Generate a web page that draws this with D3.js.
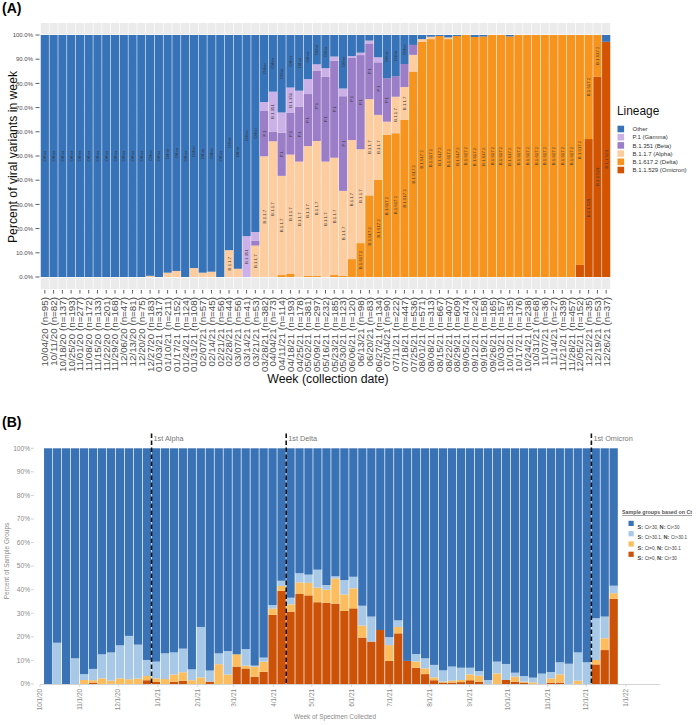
<!DOCTYPE html>
<html><head><meta charset="utf-8">
<script src="https://cdn.jsdelivr.net/npm/d3@7"></script>
<style>body{margin:0;background:#fff}svg{display:block}text{font-family:"Liberation Sans",Arial,sans-serif}</style>
</head><body><svg id="c" width="696" height="725"></svg>
<script>
// ---------- Panel A data ----------
const weeks = ["10/04/20","10/11/20","10/18/20","10/25/20","11/01/20","11/08/20","11/15/20","11/22/20","11/29/20","12/06/20",
"12/13/20","12/20/20","12/27/20","01/03/21","01/10/21","01/17/21","01/24/21","01/31/21","02/07/21","02/14/21",
"02/21/21","02/28/21","03/07/21","03/14/21","03/21/21","03/28/21","04/04/21","04/11/21","04/18/21","04/25/21",
"05/02/21","05/09/21","05/16/21","05/23/21","05/30/21","06/06/21","06/13/21","06/20/21","06/27/21","07/04/21",
"07/11/21","07/18/21","07/25/21","08/01/21","08/08/21","08/15/21","08/22/21","08/29/21","09/05/21","09/12/21",
"09/19/21","09/26/21","10/03/21","10/10/21","10/17/21","10/24/21","10/31/21","11/07/21","11/14/21","11/21/21",
"11/28/21","12/05/21","12/12/21","12/19/21","12/26/21"];
const nCounts = [95,82,137,193,277,172,133,201,168,47,81,75,183,317,211,152,124,108,57,45,
56,44,56,41,53,382,73,114,193,178,381,297,232,185,123,120,98,83,134,90,
222,447,536,571,313,667,407,609,474,224,158,165,157,135,176,238,68,36,27,339,
457,152,35,53,37];
const omicronA = [0,0,0,0,0,0,0,0,0,0, 0,0,0,0,0,0,0,0,0,0, 0,0,0,0,0,0,0,0,0,0, 0,0,0,0,0,0,0,0,0,0,
0,0,0,0,0,0,0,0,0,0, 0,0,0,0,0,0,0,0,0,0, 0,5.0,57.0,82.8,97.2];
const deltaA = [0,0,0,0,0,0,0,0,0,0, 0,0,0,0,0,0,0,0,0,0, 0,0,0,0,0,0,0,0.8,1.4,0,
0.5,0.5,0,0.8,0.5,7.4,14.0,33.7,40.2,58.7, 59.4,65.0,84.9,97.2,98.3,99.6,98.3,99.6,100,99.2,
99.4,100,100,99.4,100,100,100,100,100,100, 100,95.0,43.0,17.2,0];
const alphaA = [0,0,0,0,0,0,0,0,0,0, 0,0,0.5,0,1.8,2.5,0,3.7,1.8,2.2, 0,11.1,3.4,0,13.0,49.9,56.1,41.0,49.2,47.7,
53.6,55.7,47.7,48.5,35.1,49.2,38.8,39.8,26.8,5.5, 15.1,13.5,6.9,1.1,1.0,0,0.7,0,0,0,
0,0,0,0,0,0,0,0,0,0, 0,0,0,0,0];
const betaA = [0,0,0,0,0,0,0,0,0,0, 0,0,0,0,0,0,0,0,0,0, 0,0,0,0,2.0,18.7,4.0,17.8,17.2,22.6,
21.5,29.1,35.0,40.0,39.1,34.1,38.9,23.0,21.7,17.9, 8.5,9.5,4.1,0,0,0,0,0,0,0,
0,0,0,0,0,0,0,0,0,0, 0,0,0,0,0];
const gammaA = [0,0,0,0,0,0,0,0,0,0, 0,0,0,0,0,0,0,0,0,0, 0,0,0,16.9,3.6,3.7,16.5,8.4,10.5,6.7,
6.2,2.6,3.6,1.8,3.2,0.6,1.0,1.2,2.1,0, 0,0,0,0,0,0,0,0,0,0,
0,0,0,0,0,0,0,0,0,0, 0,0,0,0,0];
const otherA = [100,100,100,100,100,100,100,100,100,100, 100,100,99.5,100,98.2,97.5,100,96.3,98.2,97.8,
100,88.9,96.6,83.1,81.4,27.7,23.4,32.0,21.7,23.0, 18.2,12.1,13.7,8.9,22.1,8.7,7.3,2.3,9.2,17.9,
17.0,12.0,4.1,1.7,0.7,0.4,1.0,0.4,0,0.8, 0.6,0,0,0.6,0,0,0,0,0,0, 0,0,0,0,2.8];
const lineageKeys = ["omicron","delta","alpha","beta","gamma","other"];
const lineageNames = {other:"Other",gamma:"P.1 (Gamma)",beta:"B.1.351 (Beta)",alpha:"B.1.1.7 (Alpha)",delta:"B.1.617.2 (Delta)",omicron:"B.1.1.529 (Omicron)"};
const barLabels = {other:"Other",gamma:"B.1.351",beta:"P.1",alpha:"B.1.1.7",delta:"B.1.617.2",omicron:"B.1.1.529"};
const colorsA = {other:"#3773b9",gamma:"#cbb1e8",beta:"#9b7dc8",alpha:"#fdcda0",delta:"#f7941d",omicron:"#d35400"};
const legendOrderA = ["other","gamma","beta","alpha","delta","omicron"];
const yTicksA = [0,10,20,30,40,50,60,70,80,90,100];

// ---------- Panel B data ----------
const darkB = [0,0,0,0,0,0.6,0,0,0,0, 0,1.6,1.0,0,1.0,1.4,0,0,1.0,0, 0,7.4,6.6,3.1,5.2,29.3,39.5,30.7,38.2,37.6,
34.7,34.5,34.1,31.0,32.1,19.7,18.0,22.9,9.8,21.5, 9.8,6.9,4.2,1.6,0.6,0.6,0.8,1.6,1.0,0,
0,1.7,1.0,0.6,0,0,0.6,0.6,0,0, 0,8.3,14.4,36.1];
const yellowB = [0,0,0,0,1.7,1.0,2.4,1.4,2.4,2.0, 2.3,1.8,1.4,2.1,3.0,3.6,1.6,2.8,0,8.4, 4.0,5.2,1.2,4.2,4.3,2.7,2.1,3.1,4.9,5.3,
6.2,5.5,10.7,7.0,8.5,5.1,0,0,6.7,2.7, 0,2.6,2.4,1.2,0.4,0.8,0.9,2.5,2.5,0,
4.5,0,2.1,0.4,0.7,0,1.8,3.5,0,1.4, 0,1.9,5.0,2.4];
const lightB = [0,17.5,0,10.9,2.5,4.8,10.2,12.0,14.0,18.4, 14.4,6.8,7.1,10.9,9.4,10.0,4.6,21.4,4.7,4.6, 10.0,0,7.0,0.5,1.7,1.5,2.2,2.8,3.9,3.5,
7.6,2.0,0.9,6.1,4.9,8.4,10.6,0,3.4,2.8, 0,3.2,4.3,5.3,4.8,6.0,5.2,2.8,2.0,1.7,
5.0,6.8,1.7,2.4,2.0,4.4,2.7,5.1,8.6,12.0, 9.2,17.7,9.2,3.2];
const blueB = [100,82.5,100,89.1,95.8,93.6,87.4,86.6,83.6,79.6, 83.3,89.8,90.5,87.0,86.6,85.0,93.8,75.8,94.3,87.0,
86.0,87.4,85.2,92.2,88.8,66.5,56.2,63.4,53.0,53.6, 51.5,58.0,54.3,55.9,54.5,66.8,71.4,77.1,80.1,73.0,
90.2,87.3,89.1,91.9,94.2,92.6,93.1,93.1,94.5,98.3, 90.5,91.5,95.2,96.6,97.3,95.6,94.9,90.8,91.4,86.6,
90.8,72.1,71.4,58.3];
const groupKeys = ["dark","yellow","light","blue"];
const colorsB = {blue:"#3a72b6",light:"#a7c9e7",yellow:"#fbbd5e",dark:"#cc5208"};
const legendB = [
  {key:"blue", s:"Ct<30,", n:"Ct<30"},
  {key:"light", s:"Ct>30.1,", n:"Ct>30.1"},
  {key:"yellow", s:"Ct=0,", n:"Ct>30.1"},
  {key:"dark", s:"Ct=0,", n:"Ct<30"}
];
const firstEvents = [{week:12,label:"1st Alpha"},{week:27,label:"1st Delta"},{week:61,label:"1st Omicron"}];

const svg = d3.select("#c");

// ================= PANEL A =================
const gA = svg.append("g");
const xA = d3.scaleBand().domain(weeks).range([40.5, 610.5]).paddingInner(0.07).paddingOuter(0.03);
const yA = d3.scaleLinear().domain([-5,105]).range([289.1, 22.9]);
const rowsA = weeks.map((w,i)=>({week:w, omicron:omicronA[i], delta:deltaA[i], alpha:alphaA[i], beta:betaA[i], gamma:gammaA[i], other:otherA[i]}));
const stackA = d3.stack().keys(lineageKeys)(rowsA);

// facet panel backgrounds
gA.selectAll("rect.bg").data(weeks).join("rect")
  .attr("x", d=>xA(d)).attr("width", xA.bandwidth())
  .attr("y", yA(105)).attr("height", yA(-5)-yA(105)).attr("fill","#ebebeb");
// white gridlines
yTicksA.forEach(t=>{
  weeks.forEach(w=>{
    gA.append("line").attr("x1",xA(w)).attr("x2",xA(w)+xA.bandwidth())
      .attr("y1",yA(t)).attr("y2",yA(t)).attr("stroke","#fff").attr("stroke-width",1.1);
  });
});
// bars
stackA.forEach(s=>{
  gA.selectAll(null).data(s).join("rect")
    .attr("x", d=>xA(d.data.week)).attr("width", xA.bandwidth())
    .attr("y", d=>yA(d[1])).attr("height", d=>Math.max(0,yA(d[0])-yA(d[1])))
    .attr("fill", colorsA[s.key]);
});
// bar labels
stackA.forEach(s=>{
  s.forEach(d=>{
    if (d[1]-d[0] >= 10) {
      const cx = xA(d.data.week)+xA.bandwidth()/2, cy = yA((d[0]+d[1])/2);
      gA.append("text").attr("transform",`translate(${cx},${cy}) rotate(-90)`)
        .attr("text-anchor","middle").attr("dy","0.35em")
        .attr("font-size",4.3).attr("fill","#3a3a3a").text(barLabels[s.key]);
    }
  });
});
// y axis
yTicksA.forEach(t=>{
  gA.append("line").attr("x1",35.5).attr("x2",39.5).attr("y1",yA(t)).attr("y2",yA(t)).attr("stroke","#333").attr("stroke-width",0.8);
  gA.append("text").attr("x",33).attr("y",yA(t)).attr("dy","0.35em").attr("text-anchor","end")
    .attr("font-size",6).attr("fill","#4d4d4d").text(d3.format(".1%")(t/100));
});
// x axis ticks and labels
weeks.forEach((w,i)=>{
  const cx = xA(w)+xA.bandwidth()/2;
  gA.append("line").attr("x1",cx).attr("x2",cx).attr("y1",290).attr("y2",293.5).attr("stroke","#333").attr("stroke-width",0.8);
  gA.append("text").attr("transform",`translate(${cx},297) rotate(-90)`)
    .attr("text-anchor","end").attr("dy","0.35em").attr("font-size",9.8).attr("fill","#4d4d4d")
    .text(`${w} (n=${nCounts[i]})`);
});
gA.append("text").attr("x",328).attr("y",383).attr("text-anchor","middle").attr("font-size",12.3).attr("fill","#111").text("Week (collection date)");
gA.append("text").attr("transform","translate(16.5,157) rotate(-90)").attr("text-anchor","middle").attr("font-size",12.2).attr("fill","#111").text("Percent of viral variants in week");
gA.append("text").attr("x",2).attr("y",13).attr("font-size",14).attr("font-weight","bold").text("(A)");
// legend A
gA.append("text").attr("x",617).attr("y",115).attr("font-size",11.9).attr("fill","#111").text("Lineage");
legendOrderA.forEach((k,i)=>{
  const y = 129 + i*8.2;
  gA.append("rect").attr("x",617.5).attr("y",y-3.3).attr("width",6.6).attr("height",6.6).attr("fill",colorsA[k]);
  gA.append("text").attr("x",632.5).attr("y",y).attr("dy","0.35em").attr("font-size",6).attr("fill","#333").text(lineageNames[k]);
});

// ================= PANEL B =================
const gB = svg.append("g");
const parseW = d3.timeParse("%m/%d/%y");
const datesB = weeks.slice(0, blueB.length).map(parseW);
const xB = d3.scaleTime().domain([new Date(2020,9,1), new Date(2022,0,1)]).range([40, 626]);
const yB = d3.scaleLinear().domain([0,100]).range([684, 448.3]);
const rowsB = datesB.map((d,i)=>({date:d, dark:darkB[i], yellow:yellowB[i], light:lightB[i], blue:blueB[i]}));
const stackB = d3.stack().keys(groupKeys)(rowsB);
const fontB = "Lato, 'Open Sans', sans-serif";

stackB.forEach(s=>{
  gB.selectAll(null).data(s).join("rect")
    .attr("x", d=>xB(d.data.date)+0.2)
    .attr("width", d=>xB(d3.timeDay.offset(d.data.date,7))-xB(d.data.date)-0.7)
    .attr("y", d=>yB(d[1])).attr("height", d=>Math.max(0,yB(d[0])-yB(d[1])))
    .attr("fill", colorsB[s.key]);
});
// axis line
gB.append("line").attr("x1",40).attr("x2",660).attr("y1",684.5).attr("y2",684.5).attr("stroke","#c8c8c8").attr("stroke-width",0.8);
// y ticks
d3.range(0,101,10).forEach(t=>{
  gB.append("text").attr("x",30).attr("y",yB(t)).attr("dy","0.35em").attr("text-anchor","end")
    .attr("font-family",fontB).attr("font-size",6.6).attr("fill","#8a8a8a").text(t+"%");
  gB.append("line").attr("x1",31).attr("x2",34).attr("y1",yB(t)).attr("y2",yB(t)).attr("stroke","#bbb").attr("stroke-width",0.6);
});
// x ticks
xB.ticks(d3.timeMonth.every(1)).forEach(d=>{
  const x = xB(d);
  gB.append("line").attr("x1",x).attr("x2",x).attr("y1",684.5).attr("y2",687).attr("stroke","#bbb").attr("stroke-width",0.6);
  gB.append("text").attr("transform",`translate(${x},689) rotate(-90)`).attr("text-anchor","end").attr("dy","0.35em")
    .attr("font-family",fontB).attr("font-size",6.4).attr("fill","#8a8a8a").text(d3.timeFormat("%-m/%-d/%y")(d));
});
gB.append("text").attr("x",335).attr("y",719).attr("text-anchor","middle").attr("font-family",fontB).attr("font-size",6.4).attr("fill","#8a8a8a").text("Week of Specimen Collected");
gB.append("text").attr("transform","translate(9,561) rotate(-90)").attr("text-anchor","middle").attr("font-family",fontB).attr("font-size",6.5).attr("fill","#8a8a8a").text("Percent of Sample Groups");
// event lines
firstEvents.forEach(e=>{
  const x = xB(datesB[e.week]);
  gB.append("line").attr("x1",x).attr("x2",x).attr("y1",433.5).attr("y2",684).attr("stroke","#111").attr("stroke-width",1.6).attr("stroke-dasharray","4.5,2.5");
  gB.append("text").attr("x",x+2).attr("y",441).attr("font-family",fontB).attr("font-size",7.3).attr("fill","#777").text(e.label);
});
gB.append("text").attr("x",2).attr("y",427).attr("font-size",14).attr("font-weight","bold").text("(B)");
// legend B
gB.append("text").attr("x",622).attr("y",514).attr("font-family",fontB).attr("font-size",5.3).attr("font-weight","bold").attr("fill","#555").attr("text-decoration","underline").text("Sample groups based on Ct");
legendB.forEach((l,i)=>{
  const y = 523.4 + i*10.3;
  gB.append("rect").attr("x",628.5).attr("y",y-2.6).attr("width",5.2).attr("height",5.2).attr("fill",colorsB[l.key]);
  const t = gB.append("text").attr("x",637.5).attr("y",y).attr("dy","0.35em").attr("font-family",fontB).attr("fill","#444");
  t.append("tspan").attr("font-size",5.6).attr("font-weight","bold").text("S: ");
  t.append("tspan").attr("font-size",4.6).text(l.s+" ");
  t.append("tspan").attr("font-size",5.6).attr("font-weight","bold").text("N: ");
  t.append("tspan").attr("font-size",4.6).text(l.n);
});
</script></body></html>
